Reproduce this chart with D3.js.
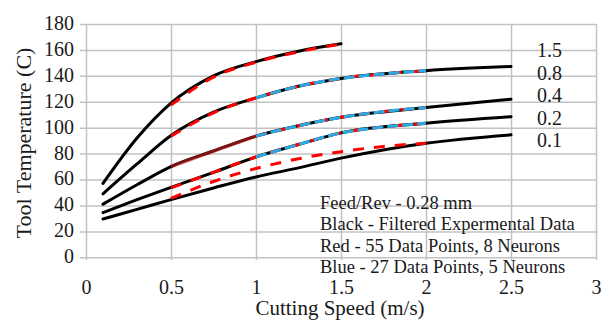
<!DOCTYPE html>
<html>
<head>
    <meta charset="utf-8">
    <title>Tool Temperature vs Cutting Speed</title>
    <script src="https://d3js.org/d3.v7.min.js"></script>
    <style>
        body { margin: 0; background: #fff; }
        text { font-family: "Liberation Serif", "Times New Roman", serif; fill: #1a1a1a; }
        .grid line { stroke: #c2c2c2; stroke-width: 1.5px; }
    </style>
</head>
<body>
    <div id="chart"></div>
    <script>
        // 数据
        const seriesLabels = ["1.5", "0.8", "0.4", "0.2", "0.1"];
        const xTicks = [0, 0.5, 1, 1.5, 2, 2.5, 3];
        const yTicks = [0, 20, 40, 60, 80, 100, 120, 140, 160, 180];

        // 黑色 - 过滤后的实验数据
        const blackX = [0.1, 0.3, 0.5, 0.75, 1.0, 1.25, 1.5, 2.0, 2.5];
        const black15 = [57, 92, 119, 140, 151, 159, 164.7, null, null];
        const black08 = [49, 72, 94, 112, 123, 132, 138, 144, 147.2];
        const black04 = [41, 56, 70, 82, 93.5, 101.5, 108, 115.5, 122];
        const black02 = [34.5, 44.5, 54, 65.5, 77.5, 87, 96, 103.5, 108.5];
        const black01 = [29.5, 37, 44.5, 53.5, 62, 69, 76.5, 88, 94.5];

        // 红色 - 55 数据点, 8 神经元
        const redX = [0.5, 0.75, 1.0, 1.25, 1.5, 1.75, 2.0];
        const red15 = [117.5, 139, 150.5, 158.5, 164.5, null, null];
        const red08 = [93.5, 111.5, 123, 132, 138, 141.5, 144];
        const red04 = [70, 82, 93.5, 101.5, 108, 112.5, 115.5];
        const red02 = [53.5, 65.5, 77.5, 87, 96, 100.5, 103.5];
        const red01 = [45.5, 58.5, 68.5, 76, 81.5, 85.5, 88];

        // 蓝色 - 27 数据点, 5 神经元
        const blueX = [1.0, 1.25, 1.5, 1.75, 2.0];
        const blue08 = [123, 132, 138, 141.5, 144];
        const blue04 = [93.5, 101.5, 108, 112.5, 115.5];
        const blue02 = [77.5, 87, 96, 100.5, 103.5];

        const noteLines = [
            "Feed/Rev - 0.28 mm",
            "Black - Filtered Expermental Data",
            "Red - 55 Data Points, 8 Neurons",
            "Blue - 27 Data Points, 5 Neurons"
        ];

        const W = 610, H = 320;
        const FONT = '"Liberation Serif", "Times New Roman", serif';
        const svg = d3.select("#chart").append("svg")
            .attr("width", W).attr("height", H);

        const x = d3.scaleLinear().domain([0, 3]).range([86, 596]);
        const y = d3.scaleLinear().domain([0, 180]).range([257.3, 24]);

        // 网格 + 刻度
        const gy = svg.append("g").attr("class", "grid")
            .attr("transform", `translate(${x(3)},0)`)
            .call(d3.axisLeft(y).tickValues(yTicks).tickSize(x(3) - 80).tickPadding(6));
        gy.attr("font-family", FONT).attr("font-size", 20);
        gy.select(".domain").remove();
        gy.selectAll("text").attr("dy", "0.27em");

        const gx = svg.append("g").attr("class", "grid")
            .attr("transform", `translate(0,${y(180)})`)
            .call(d3.axisBottom(x).tickValues(xTicks).tickFormat(d3.format("")).tickSize(260 - y(180)).tickPadding(20));
        gx.attr("font-family", FONT).attr("font-size", 20);
        gx.select(".domain").remove();

        const line = d3.line()
            .x(d => x(d[0])).y(d => y(d[1]))
            .curve(d3.curveMonotoneX);

        const zip = (xs, ys) => xs.map((v, i) => [v, ys[i]]).filter(d => d[1] != null);

        // 黑线
        [black15, black08, black04, black02, black01].forEach(s => {
            svg.append("path")
                .attr("d", line(zip(blackX, s)))
                .attr("fill", "none").attr("stroke", "#000")
                .attr("stroke-width", 3).attr("stroke-linecap", "round");
        });

        // 红色虚线
        [red15, red08, red04, red02, red01].forEach((s, i) => {
            let pts = zip(redX, s);
            if (seriesLabels[i] === "0.4") {
                svg.append("path")
                    .attr("d", line(pts.filter(d => d[0] <= 1.0)))
                    .attr("fill", "none").attr("stroke", "#d02020")
                    .attr("stroke-opacity", 0.6).attr("stroke-width", 3.5);
                pts = pts.filter(d => d[0] >= 1.0);
            }
            svg.append("path")
                .attr("d", line(pts))
                .attr("fill", "none").attr("stroke", "#ff0000")
                .attr("stroke-width", 3).attr("stroke-dasharray", "11,10");
        });

        // 蓝色虚线
        [blue08, blue04, blue02].forEach(s => {
            svg.append("path")
                .attr("d", line(zip(blueX, s)))
                .attr("fill", "none").attr("stroke", "#2aaae2")
                .attr("stroke-width", 3).attr("stroke-dasharray", "11,4");
        });

        // 右侧标签
        svg.append("g").selectAll("text")
            .data(seriesLabels).enter().append("text")
            .attr("x", 537)
            .attr("y", (d, i) => 57 + i * 22.5)
            .style("font-size", "20px")
            .text(d => d);

        // 说明文字
        svg.append("g").selectAll("text")
            .data(noteLines).enter().append("text")
            .attr("x", 320)
            .attr("y", (d, i) => 208.5 + i * 21.5)
            .style("font-size", "18.5px")
            .text(d => d);

        // 轴标题
        svg.append("text")
            .attr("x", 340).attr("y", 315)
            .style("text-anchor", "middle").style("font-size", "21px")
            .text("Cutting Speed (m/s)");

        svg.append("text")
            .attr("transform", "rotate(-90)")
            .attr("x", -143).attr("y", 31)
            .style("text-anchor", "middle").style("font-size", "22px")
            .text("Tool Temperature (C)");
    </script>
</body>
</html>
